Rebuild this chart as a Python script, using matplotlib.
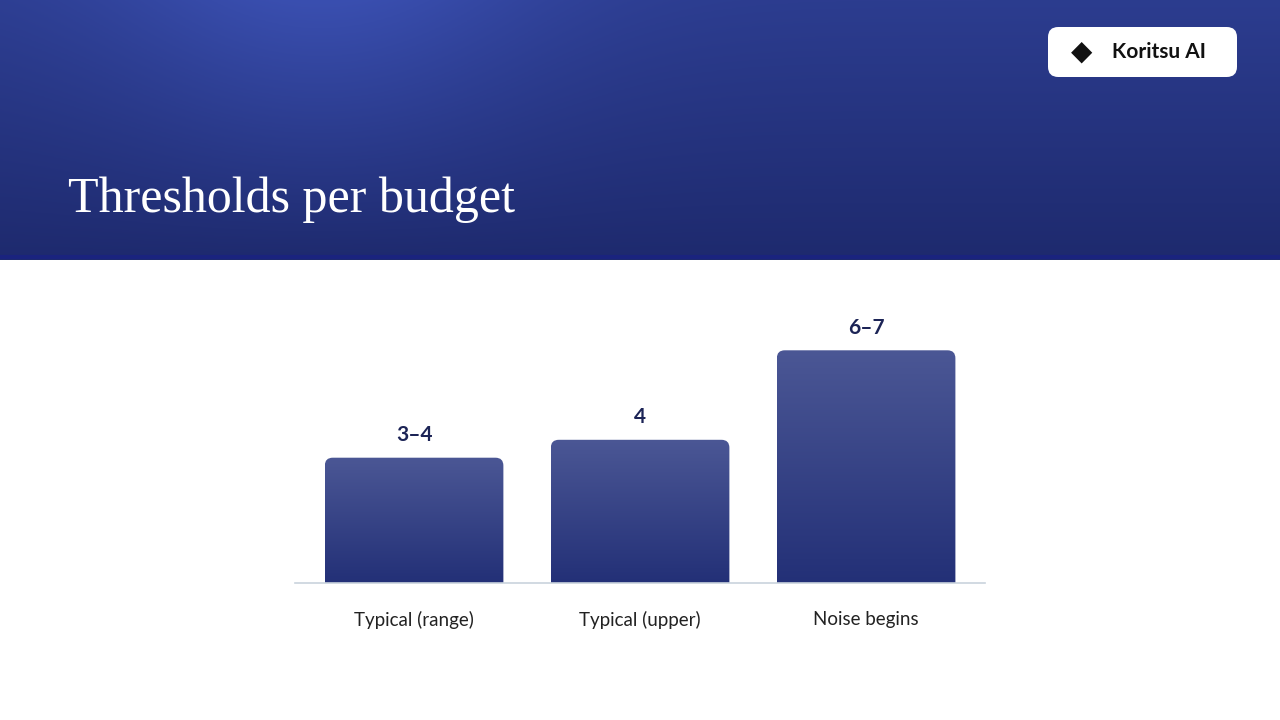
import matplotlib
matplotlib.use("Agg")
import matplotlib.pyplot as plt
import numpy as np
from matplotlib.patches import FancyBboxPatch

categories = ["Typical (range)", "Typical (upper)", "Noise begins"]
values = [3.5, 4, 6.5]
value_labels = ["3–4", "4", "6–7"]
title = "Thresholds per budget"

fig = plt.figure(figsize=(12.8, 7.2), dpi=100)
fig.patch.set_facecolor("white")

# Banner
bax = fig.add_axes([0, 1 - 260/720, 1, 260/720])
xs = np.linspace(0, 1, 400)
ys = np.linspace(0, 1, 100)
X, Y = np.meshgrid(xs, ys)
c1 = np.array([0x1e, 0x2a, 0x6e]) / 255
c2 = np.array([0x3a, 0x4f, 0xb0]) / 255
t = (0.5 * Y + 0.5 * np.exp(-((X - 0.25) ** 2) / 0.03) * Y)[..., None]
img = c1 * (1 - t) + c2 * t
bax.imshow(img, aspect="auto", extent=[0, 1, 0, 1], origin="lower")
bax.axhline(0.01, color="#1a237e", lw=3)
bax.set_xlim(0, 1); bax.set_ylim(0, 1); bax.axis("off")
bax.text(68/1280, 1 - 200/260, title, color="white", fontsize=36,
         family="Liberation Serif", va="center", ha="left")
logo = FancyBboxPatch((1048/1280, 1 - 77/260), 189/1280, 50/260,
                      boxstyle="round,pad=0,rounding_size=0.008", mutation_aspect=4.9,
                      fc="white", ec="none", transform=bax.transAxes)
bax.add_patch(logo)
bax.text(1112/1280, 1 - 52/260, "Koritsu AI", fontsize=15, fontweight="bold",
         family="Lato", color="#111", va="center", ha="left")
bax.text(1082/1280, 1 - 52/260, "◆", fontsize=20, color="#111", va="center", ha="center")

# Chart
ax = fig.add_axes([295/1280, (720 - 583)/720, 690/1280, 283/720])
x = np.arange(len(categories))
bars = ax.bar(x, values, width=0.79, color="none")
grad = np.linspace(0, 1, 256)[:, None]
cmap = matplotlib.colors.LinearSegmentedColormap.from_list("g", ["#233077", "#4b5795"])
for b, lab in zip(bars, value_labels):
    bx, bw, bh = b.get_x(), b.get_width(), b.get_height()
    p = FancyBboxPatch((bx, -0.4), bw, bh + 0.4,
                       boxstyle="round,pad=0,rounding_size=0.035", mutation_aspect=6.3,
                       fc="none", ec="none")
    ax.add_patch(p)
    im = ax.imshow(grad, extent=[bx, bx + bw, 0, bh], origin="lower",
                   cmap=cmap, aspect="auto", zorder=2)
    im.set_clip_path(p)
    ax.text(bx + bw/2, bh + 0.35, lab, ha="center", va="bottom", fontsize=15,
            fontweight="bold", color="#1c2456", family="Lato")
ax.set_aspect("auto")
ax.set_xlim(-0.527, 2.526)
ax.set_ylim(0, 283/35.8)
for s in ["top", "right", "left"]:
    ax.spines[s].set_visible(False)
ax.spines["bottom"].set_color("#c9d3dd")
ax.spines["bottom"].set_linewidth(1.2)
ax.set_yticks([])
ax.set_xticks(x)
ax.set_xticklabels(categories, fontsize=13.5, color="#222", family="Lato")
ax.tick_params(axis="x", length=0, pad=20)

fig.savefig("out.png", dpi=100)
